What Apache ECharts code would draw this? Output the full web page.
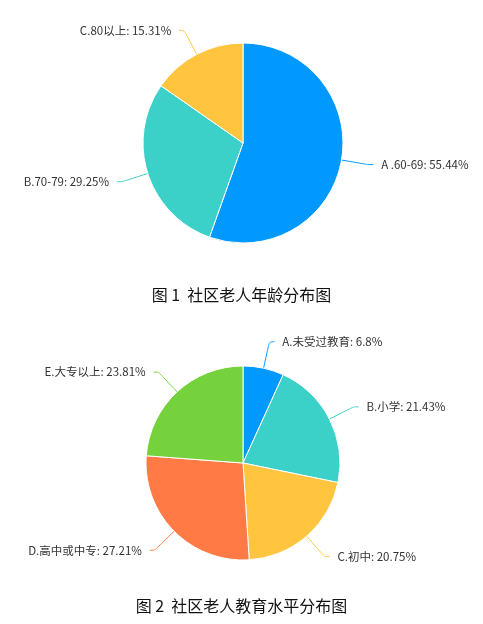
<!DOCTYPE html>
<html><head><meta charset="utf-8">
<script src="https://cdn.jsdelivr.net/npm/echarts@6/dist/echarts.min.js"></script>
<style>html,body{margin:0;padding:0;background:#fff}#c{width:483px;height:624px}</style>
</head><body><div id="c"></div>
<script>
const ageNames = ['A .60-69', 'B.70-79', 'C.80以上'];
const ageValues = [55.44, 29.25, 15.31];
const eduNames = ['A.未受过教育', 'B.小学', 'C.初中', 'D.高中或中专', 'E.大专以上'];
const eduValues = [6.8, 21.43, 20.75, 27.21, 23.81];
const title1 = '图 1  社区老人年龄分布图';
const title2 = '图 2  社区老人教育水平分布图';
const ageColors = ['#0299fe', '#3bd0c8', '#ffc53f'];
const eduColors = ['#0299fe', '#3bd0c8', '#ffc53f', '#ff7a45', '#75d23d'];

const chart = echarts.init(document.getElementById('c'));
const labelStyle = {
  formatter: p => p.name + ': ' + p.value + '%',
  color: '#333', fontSize: 11.5, fontFamily: 'Noto Sans CJK SC', distanceToLabelLine: 8
};
const titleStyle = {fontFamily: 'Noto Sans CJK SC', fontWeight: 'normal', fontSize: 16, color: '#111'};
chart.setOption({
  animation: false,
  title: [
    {text: title1, left: 'center', top: 282, textStyle: titleStyle},
    {text: title2, left: 'center', top: 593, textStyle: titleStyle}
  ],
  series: [
    {
      type: 'pie', center: [243, 143], radius: 100, startAngle: 90, clockwise: true,
      itemStyle: {borderColor: '#fff', borderWidth: 1},
      label: labelStyle,
      labelLine: {length: 27, length2: 5, smooth: true},
      data: ageNames.map((n, i) => ({name: n, value: ageValues[i], itemStyle: {color: ageColors[i]}}))
    },
    {
      type: 'pie', center: [243, 463], radius: 97, startAngle: 90, clockwise: true,
      itemStyle: {borderColor: '#fff', borderWidth: 1},
      label: labelStyle,
      labelLine: {length: 27, length2: 5, smooth: true},
      data: eduNames.map((n, i) => ({name: n, value: eduValues[i], itemStyle: {color: eduColors[i]}}))
    }
  ]
});
</script></body></html>
